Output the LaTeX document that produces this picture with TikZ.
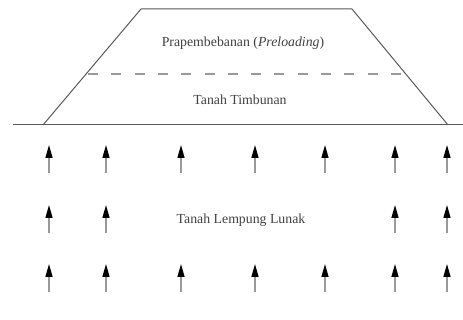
\documentclass[tikz,border=0pt]{standalone}
\usepackage{fontspec}
\setmainfont{Liberation Serif}
\usetikzlibrary{arrows.meta}
\begin{document}
\begin{tikzpicture}[x=1pt,y=-1pt,
  lineg/.style={draw=black!65,line width=1pt},
  dashg/.style={draw=black!40,line width=1.6pt,dash pattern=on 10pt off 13.3pt},
  uparrow/.style={draw=black!40,line width=1.4pt,-{Triangle[length=13pt,width=7pt,color=black]}},
  lbl/.style={font=\fontsize{13.8}{16}\selectfont,text=black!75,inner sep=0pt}]
\useasboundingbox (0,0) rectangle (463,320);
% embankment
\coordinate (bl) at (43,125);
\coordinate (tl) at (141,9);
\coordinate (tr) at (352,9);
\coordinate (br) at (448,125);
\coordinate (gl) at (13,125);
\coordinate (gr) at (463,125);
\coordinate (dl) at (88,74);
\coordinate (dr) at (405,74);
\draw[lineg] (bl) -- (tl) -- (tr) -- (br);
\draw[lineg] (gl) -- (gr);
\draw[dashg] (dl) -- (dr);
\node[lbl] (pre) at (243,43) {Prapembebanan (\textit{Preloading})};
\node[lbl] (tim) at (240,100) {Tanah Timbunan};
\node[lbl] (lem) at (241,220) {Tanah Lempung Lunak};
% arrows
\foreach \i/\x in {1/49,2/106,3/181,4/255,5/325,6/395,7/447}{
  \coordinate (a1b\i) at (\x,173); \coordinate (a1t\i) at (\x,145);
  \coordinate (a3b\i) at (\x,292); \coordinate (a3t\i) at (\x,264);
  \draw[uparrow] (a1b\i) -- (a1t\i);
  \draw[uparrow] (a3b\i) -- (a3t\i);
}
\foreach \i/\x in {1/49,2/106,6/395,7/447}{
  \coordinate (a2b\i) at (\x,233); \coordinate (a2t\i) at (\x,205);
  \draw[uparrow] (a2b\i) -- (a2t\i);
}
\end{tikzpicture}
\end{document}
